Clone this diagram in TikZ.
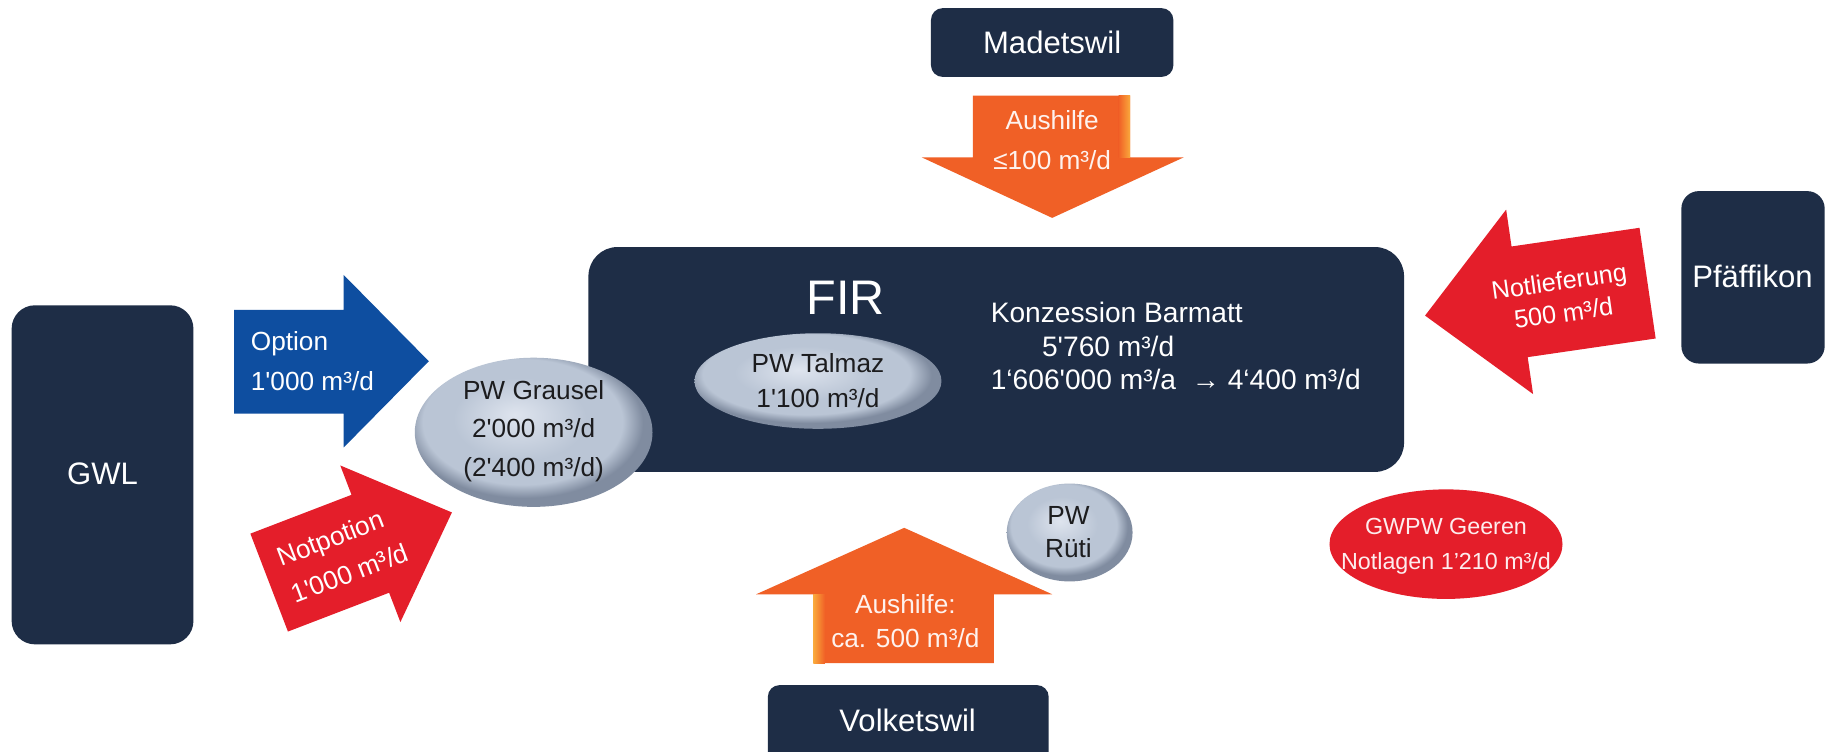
\documentclass[tikz,border=0pt]{standalone}
\usepackage{fontspec}
\setmainfont{Liberation Sans}
\usepackage{tikz}
\usetikzlibrary{shapes.geometric}

\definecolor{boxnavy}{RGB}{30,45,70}
\definecolor{optblue}{RGB}{14,78,160}
\definecolor{notred}{RGB}{228,30,42}
\definecolor{helporange}{RGB}{240,96,38}
\definecolor{helpgold}{RGB}{250,170,60}
\definecolor{pwlight}{RGB}{222,228,238}
\definecolor{pwgrey}{RGB}{186,197,213}
\definecolor{pwdark}{RGB}{128,140,160}
\definecolor{pwtext}{RGB}{28,28,30}
\pgfdeclareradialshading{pwball}{\pgfpoint{-4bp}{6bp}}{color(0bp)=(pwlight); color(14bp)=(pwgrey); color(21bp)=(pwgrey); color(25bp)=(pwdark); color(50bp)=(pwdark)}
\newcommand{\tq}{\textquotesingle}

\begin{document}
\begin{tikzpicture}[x=0.6pt,y=0.6pt,yscale=-1,xscale=1,
  darkbox/.style={fill=boxnavy},
  boxlabel/.style={text=white,inner sep=0pt,font=\fontsize{16}{19}\selectfont},
  arrowlabel/.style={text=white,inner sep=0pt,align=center,font=\fontsize{13.5}{20.4}\selectfont},
  pwlabel/.style={text=pwtext,inner sep=0pt,align=center,font=\fontsize{13.5}{20}\selectfont}]
\clip (0,0) rectangle (1568,645);
\fill[white] (0,0) rectangle (1568,645);

%Shape: Rounded Rectangle [Madetswil]
\fill[darkbox,rounded corners=6pt] (799,7) rectangle (1007,66);
%Shape: Down Arrow [Aushilfe top]
\fill[helporange] (835,82) -- (970,82) -- (970,135) -- (1016,135) -- (903,187) -- (791,135) -- (835,135) -- cycle;
\shade[left color=helporange,right color=helpgold] (960,82) rectangle (970,135);
%Shape: Rounded Rectangle [FIR]
\fill[darkbox,rounded corners=15pt] (505,212) rectangle (1205,405);
%Shape: Rounded Rectangle [GWL]
\fill[darkbox,rounded corners=12pt] (10,262) rectangle (166,553);
%Shape: Right Arrow [Option]
\fill[optblue] (201,266) -- (295,266) -- (295,236) -- (368,310) -- (295,384) -- (295,355) -- (201,355) -- cycle;
%Shape: Right Arrow [Notpotion]
\begin{scope}[shift={(231,500)},rotate=-21]
\fill[notred] (0,-45) -- (93,-45) -- (93,-72) -- (168,0) -- (93,72) -- (93,45) -- (0,45) -- cycle;
\end{scope}
%Shape: Left Arrow [Notlieferung]
\begin{scope}[shift={(1414,243)},rotate=171.7]
\fill[notred] (0,-48) -- (111,-48) -- (111,-80) -- (193,0) -- (111,80) -- (111,48) -- (0,48) -- cycle;
\end{scope}
%Shape: Rounded Rectangle [Pfaeffikon]
\fill[darkbox,rounded corners=9pt] (1443,164) rectangle (1566,312);
%Shape: Up Arrow [Aushilfe bottom]
\fill[helporange] (698,569) -- (853,569) -- (853,510) -- (903,510) -- (776,453) -- (649,510) -- (698,510) -- cycle;
\shade[left color=helpgold,right color=helporange] (698,510) rectangle (708,569);
%Shape: Rounded Rectangle [Volketswil]
\fill[darkbox,rounded corners=6pt] (659,588) rectangle (900,660);
%Shape: Ellipse [PW Talmaz]
\shade[shading=pwball] (702,327) ellipse (106 and 41);
%Shape: Ellipse [PW Grausel]
\shade[shading=pwball] (458,371) ellipse (102 and 64);
%Shape: Ellipse [PW Rueti]
\shade[shading=pwball] (918,457) ellipse (54 and 42);
%Shape: Ellipse [GWPW Geeren]
\fill[notred] (1241,467) ellipse (100 and 47);

% Text Node
\node[boxlabel] (madetswil) at (903,36) {Madetswil};
% Text Node
\node[arrowlabel,text=white!92!helporange] (helptop) at (903,120) {Aushilfe\\≤100 m³/d};
% Text Node
\node[text=white,inner sep=0pt,font=\fontsize{25}{30}\selectfont] (fir) at (726,256) {FIR};
% Text Node
\node[text=white,inner sep=0pt,anchor=west,align=left,font=\fontsize{14.5}{17.4}\selectfont] (barmatt) at (850,297) {Konzession Barmatt\\\hspace*{26.4pt}5\tq760 m³/d\\1‘606\tq000 m³/a \ → 4‘400 m³/d};
% Text Node
\node[pwlabel,font=\fontsize{13.5}{18}\selectfont] (talmaz) at (702,327) {PW Talmaz\\1\tq100 m³/d};
% Text Node
\node[pwlabel] (grausel) at (458,370) {PW Grausel\\2\tq000 m³/d\\(2\tq400 m³/d)};
% Text Node
\node[boxlabel] (gwl) at (88,407) {GWL};
% Text Node
\node[arrowlabel,anchor=west,align=left] (option) at (215,310) {Option\\1\tq000 m³/d};
% Text Node
\node[arrowlabel,align=left,rotate=21] (notpotion) at (294,476) {Notpotion\\1\tq000 m³/d};
% Text Node
\node[arrowlabel,font=\fontsize{13}{16.5}\selectfont,rotate=8] (notlief) at (1340,255) {Notlieferung\\500 m³/d};
% Text Node
\node[boxlabel] (pfaeffikon) at (1504,237) {Pfäffikon};
% Text Node
\node[pwlabel,font=\fontsize{13.5}{17}\selectfont] (rueti) at (917,457) {PW\\Rüti};
% Text Node
\node[arrowlabel,text=white!92!helporange,font=\fontsize{13.5}{17.2}\selectfont] (helpbottom) at (777,533) {Aushilfe:\\ca. 500 m³/d};
% Text Node
\node[boxlabel] (volketswil) at (779,618) {Volketswil};
% Text Node
\node[text=white!92!notred,inner sep=0pt,align=center,font=\fontsize{12}{18}\selectfont] (geeren) at (1241,469) {GWPW Geeren\\Notlagen 1’210 m³/d};

\end{tikzpicture}
\end{document}
